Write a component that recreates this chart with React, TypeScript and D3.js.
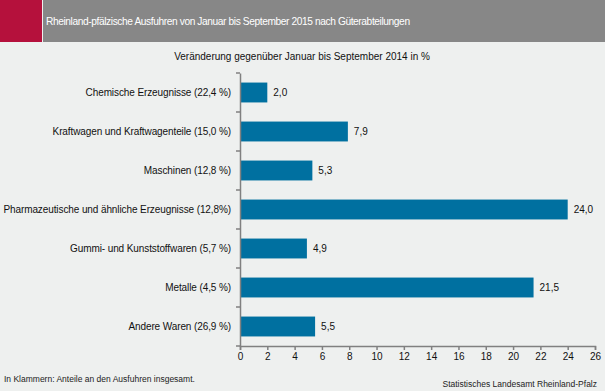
import { useEffect, useRef } from "react";
import { select, scaleLinear, scaleBand, axisBottom, axisLeft, range } from "d3";

const categories = [
  "Chemische Erzeugnisse (22,4 %)",
  "Kraftwagen und Kraftwagenteile (15,0 %)",
  "Maschinen (12,8 %)",
  "Pharmazeutische und ähnliche Erzeugnisse (12,8%)",
  "Gummi- und Kunststoffwaren (5,7 %)",
  "Metalle (4,5 %)",
  "Andere Waren (26,9 %)",
];
const values = [2.0, 7.9, 5.3, 24.0, 4.9, 21.5, 5.5];
const xTicks = range(0, 27, 2);

const title = "Rheinland-pfälzische Ausfuhren von Januar bis September 2015 nach Güterabteilungen";
const subtitle = "Veränderung gegenüber Januar bis September 2014 in %";
const footnote = "In Klammern: Anteile an den Ausfuhren insgesamt.";
const source = "Statistisches Landesamt Rheinland-Pfalz";

const W = 605;
const H = 391;
const FONT = "'Liberation Sans', Arial, sans-serif";

export default function App() {
  const svgRef = useRef<SVGSVGElement | null>(null);

  useEffect(() => {
    if (!svgRef.current) return;
    const svg = select(svgRef.current);
    svg.selectAll("*").remove();

    const margin = { top: 73, left: 240, right: 10, bottom: 45 };
    const innerW = W - margin.left - margin.right;
    const innerH = H - margin.top - margin.bottom;

    svg.append("rect").attr("width", W).attr("height", H).attr("fill", "#eef0ef");

    // header
    svg.append("rect").attr("x", 0).attr("y", 0).attr("width", 42).attr("height", 42).attr("fill", "#b5113c");
    svg.append("rect").attr("x", 43).attr("y", 0).attr("width", W - 43).attr("height", 42).attr("fill", "#878787");
    svg
      .append("text")
      .attr("x", 46)
      .attr("y", 25)
      .attr("fill", "#fff")
      .style("font-family", FONT)
      .style("font-size", "10.2px")
      .style("letter-spacing", "-0.4px")
      .text(title);

    svg
      .append("text")
      .attr("x", 302)
      .attr("y", 60)
      .attr("text-anchor", "middle")
      .attr("fill", "#111")
      .style("font-family", FONT)
      .style("font-size", "10px")
      .text(subtitle);

    const x = scaleLinear().domain([0, 26]).range([0, innerW]);
    const y = scaleBand().domain(categories).range([0, innerH]).paddingInner(0.49).paddingOuter(0.245);

    const chart = svg.append("g").attr("transform", `translate(${margin.left},${margin.top})`);

    chart
      .selectAll("rect.bar")
      .data(values)
      .enter()
      .append("rect")
      .attr("class", "bar")
      .attr("x", 0)
      .attr("y", (_d, i) => y(categories[i]) as number)
      .attr("width", (d) => x(d))
      .attr("height", y.bandwidth())
      .attr("fill", "#0070a0");

    chart
      .selectAll("text.val")
      .data(values)
      .enter()
      .append("text")
      .attr("class", "val")
      .attr("x", (d) => x(d) + 6)
      .attr("y", (_d, i) => (y(categories[i]) as number) + y.bandwidth() / 2)
      .attr("dy", "0.35em")
      .attr("fill", "#111")
      .style("font-family", FONT)
      .style("font-size", "10px")
      .text((d) => d.toFixed(1).replace(".", ","));

    // x axis
    const xAxis = chart
      .append("g")
      .attr("transform", `translate(0,${innerH})`)
      .call(axisBottom(x).tickValues(xTicks).tickSize(4).tickSizeOuter(4).tickPadding(3).tickFormat((d) => String(d)));
    xAxis.selectAll("path, line").attr("stroke", "#808080").attr("stroke-width", 1.5);
    xAxis.selectAll("text").attr("fill", "#111").style("font-family", FONT).style("font-size", "10px");

    // category axis
    const yAxis = chart.append("g").call(axisLeft(y).tickSize(0).tickPadding(9));
    yAxis.select(".domain").attr("stroke", "#808080").attr("stroke-width", 1.5);
    yAxis
      .selectAll("text")
      .attr("fill", "#111")
      .style("font-family", FONT)
      .style("font-size", "10px")
      .style("letter-spacing", "-0.1px");

    // category boundary ticks
    const step = innerH / categories.length;
    chart
      .selectAll("line.sep")
      .data(range(categories.length + 1))
      .enter()
      .append("line")
      .attr("class", "sep")
      .attr("x1", -4)
      .attr("x2", 0)
      .attr("y1", (i) => i * step)
      .attr("y2", (i) => i * step)
      .attr("stroke", "#808080")
      .attr("stroke-width", 1.5);

    svg
      .append("text")
      .attr("x", 4)
      .attr("y", 382)
      .attr("fill", "#222")
      .style("font-family", FONT)
      .style("font-size", "8.5px")
      .text(footnote);

    svg
      .append("text")
      .attr("x", 597)
      .attr("y", 387)
      .attr("text-anchor", "end")
      .attr("fill", "#222")
      .style("font-family", FONT)
      .style("font-size", "8.5px")
      .text(source);
  }, []);

  return (
    <svg
      ref={svgRef}
      width={W}
      height={H}
      style={{ position: "absolute", left: 0, top: 0, display: "block" }}
    ></svg>
  );
}
